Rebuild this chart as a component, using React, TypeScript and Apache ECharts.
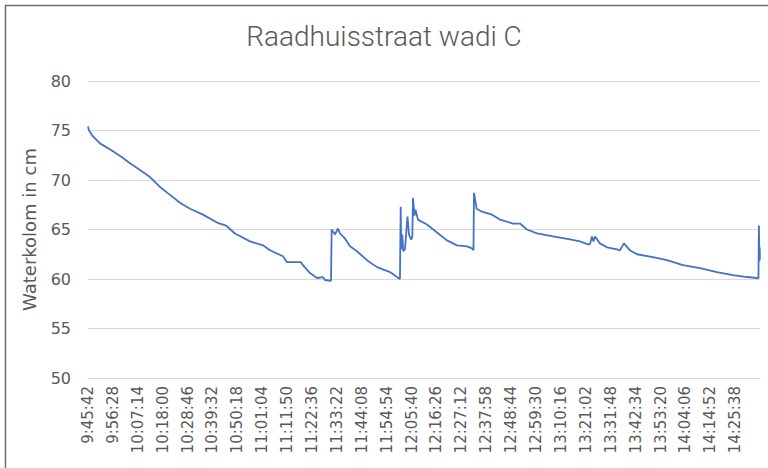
import React, { useEffect, useRef } from "react";
import * as echarts from "echarts";

const TITLE = "Raadhuisstraat wadi C";
const Y_NAME = "Waterkolom in cm";
const START = "9:45:42";
const LABEL_STEP_S = 646;
const X_MAX_S = 17440;

// vertices of the logged water column (clock time, cm)
const times: string[] = [
  "9:45:42", "9:46:08", "9:47:52", "9:50:53", "9:56:31", "10:00:24", "10:03:52", "10:08:11",
  "10:12:31", "10:16:50", "10:21:10", "10:25:29", "10:29:49", "10:35:26", "10:41:30", "10:45:23",
  "10:49:17", "10:55:46", "11:01:23", "11:04:25", "11:10:02", "11:11:46", "11:17:49", "11:18:41",
  "11:21:43", "11:24:45", "11:27:20", "11:28:12", "11:30:48", "11:31:06", "11:32:32", "11:33:50",
  "11:34:41", "11:36:51", "11:39:01", "11:42:03", "11:46:22", "11:50:42", "11:56:19", "11:59:21",
  "12:00:38", "12:00:57", "12:01:12", "12:01:38", "12:02:04", "12:02:48", "12:03:53", "12:04:32",
  "12:05:24", "12:05:58", "12:06:16", "12:06:55", "12:07:21", "12:08:26", "12:12:19", "12:16:39",
  "12:20:58", "12:25:18", "12:29:37", "12:31:47", "12:32:26", "12:32:39", "12:33:49", "12:36:06",
  "12:40:26", "12:43:53", "12:49:31", "12:52:32", "12:55:34", "12:59:54", "13:06:49", "13:14:10",
  "13:18:29", "13:21:57", "13:22:49", "13:23:41", "13:24:20", "13:24:59", "13:27:08", "13:30:10",
  "13:34:30", "13:35:47", "13:37:31", "13:40:07", "13:43:09", "13:50:04", "13:56:07", "14:03:02",
  "14:10:23", "14:17:45", "14:24:40", "14:30:43", "14:35:03", "14:35:42", "14:35:54", "14:36:07",
  "14:36:14", "14:36:20",
];
const levels: number[] = [
  75.4, 75.0, 74.4, 73.7, 72.9, 72.3, 71.7, 71.0,
  70.3, 69.3, 68.5, 67.7, 67.1, 66.5, 65.7, 65.4,
  64.6, 63.8, 63.4, 62.9, 62.3, 61.7, 61.7, 61.4,
  60.6, 60.1, 60.2, 59.9, 59.8, 65.0, 64.5, 65.1,
  64.6, 64.1, 63.3, 62.8, 61.9, 61.2, 60.7, 60.2,
  60.0, 67.3, 63.0, 64.5, 62.8, 63.0, 66.3, 64.5,
  64.0, 64.2, 68.2, 66.4, 67.0, 66.0, 65.5, 64.7,
  63.9, 63.4, 63.3, 63.1, 62.9, 68.7, 67.1, 66.8,
  66.5, 66.0, 65.6, 65.6, 65.0, 64.6, 64.3, 64.0,
  63.8, 63.5, 63.5, 64.3, 63.8, 64.3, 63.6, 63.2,
  63.0, 62.9, 63.6, 62.9, 62.5, 62.2, 61.9, 61.4,
  61.1, 60.7, 60.4, 60.2, 60.1, 60.1, 65.4, 61.8,
  63.2, 62.0,
];
const yTicks = { min: 50, max: 80, interval: 5 };

const toSec = (t: string) => {
  const [h, m, s] = t.split(":").map(Number);
  return h * 3600 + m * 60 + s;
};
const base = toSec(START);
const fmt = (v: number) => {
  const t = base + v;
  const h = Math.floor(t / 3600);
  const m = Math.floor((t % 3600) / 60);
  const s = t % 60;
  return `${h}:${String(m).padStart(2, "0")}:${String(s).padStart(2, "0")}`;
};

export default function App() {
  const ref = useRef<HTMLDivElement>(null);
  useEffect(() => {
    if (!ref.current) return;
    const chart = echarts.init(ref.current, null, { renderer: "svg" });
    const data = times.map((t, i) => [toSec(t) - base, levels[i]]);
    chart.setOption({
      animation: false,
      backgroundColor: "#ffffff",
      title: {
        text: TITLE,
        left: "center",
        top: 17,
        textStyle: { fontFamily: "Roboto", fontWeight: 300, fontSize: 28, color: "#595959" },
      },
      graphic: [
        {
          type: "rect",
          shape: { x: 5.5, y: 5.5, width: 800, height: 500 },
          style: { fill: "none", stroke: "#6e6e6e", lineWidth: 1.5 },
          silent: true,
        },
      ],
      grid: { left: 88, right: 8, top: 81, bottom: 90, containLabel: false },
      xAxis: {
        type: "value",
        min: 0,
        max: X_MAX_S,
        interval: LABEL_STEP_S,
        axisLine: { show: true, lineStyle: { color: "#d9d9d9", width: 1 } },
        axisTick: { show: false },
        splitLine: { show: false },
        axisLabel: {
          rotate: 90,
          margin: 8,
          showMaxLabel: false,
          fontFamily: "DejaVu Sans",
          fontSize: 15,
          color: "#595959",
          formatter: (v: number) => (v % LABEL_STEP_S === 0 ? fmt(v) : ""),
        },
      },
      yAxis: {
        type: "value",
        min: yTicks.min,
        max: yTicks.max,
        interval: yTicks.interval,
        name: Y_NAME,
        nameLocation: "middle",
        nameGap: 50,
        nameTextStyle: { fontFamily: "DejaVu Sans", fontSize: 18, color: "#595959" },
        axisLine: { show: false },
        axisTick: { show: false },
        splitLine: { lineStyle: { color: "#d9d9d9", width: 1 } },
        axisLabel: { margin: 17, fontFamily: "DejaVu Sans", fontSize: 16, color: "#595959" },
      },
      series: [
        {
          type: "line",
          data,
          showSymbol: false,
          symbol: "none",
          lineStyle: { color: "#4472C4", width: 1.8 },
        },
      ],
    });
    return () => chart.dispose();
  }, []);
  return (
    <div
      ref={ref}
      style={{ position: "absolute", left: 0, top: 0, width: 768, height: 468 }}
    />
  );
}
